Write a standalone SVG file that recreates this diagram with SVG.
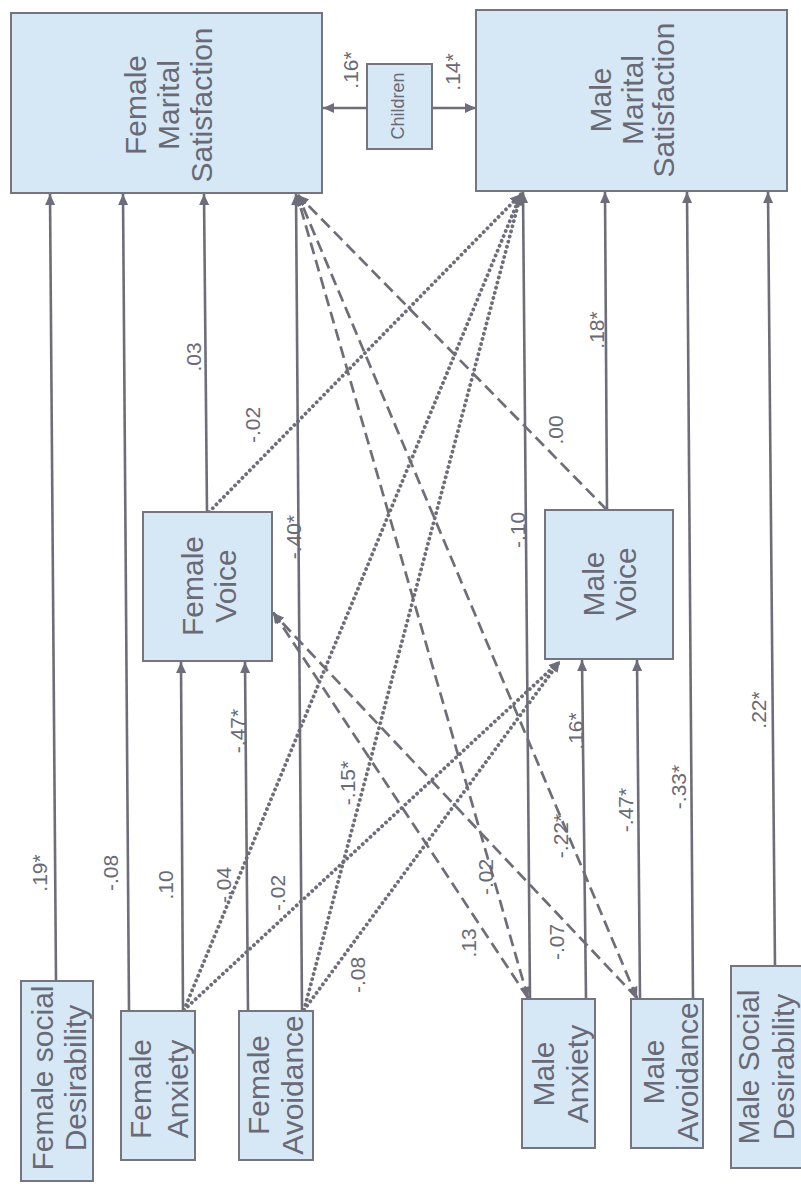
<svg xmlns="http://www.w3.org/2000/svg" width="801" height="1184" viewBox="0 0 801 1184">
<style>
.box{fill:#d6e8f5;stroke:#75757f;stroke-width:2}
.nt{font-family:"Liberation Sans",Arial,sans-serif;font-size:30px;fill:#6a6a76;text-anchor:middle}
.lb{font-family:"Liberation Sans",Arial,sans-serif;font-size:21px;fill:#6a6a76;text-anchor:middle}
.solid{stroke:#6e6e7a;stroke-width:2.6;fill:none}
.dash{stroke:#6e6e7a;stroke-width:2.7;fill:none;stroke-dasharray:12 6}
.dot{stroke:#6e6e7a;stroke-width:3.8;fill:none;stroke-dasharray:0.1 5.2;stroke-linecap:round}
</style>
<defs>
<marker id="ah" markerUnits="userSpaceOnUse" markerWidth="12" markerHeight="10" refX="11" refY="5" orient="auto">
<path d="M0,0 L11,5 L0,10 z" fill="#6e6e7a"/>
</marker>
<marker id="ahs" markerUnits="userSpaceOnUse" markerWidth="12" markerHeight="10" refX="0" refY="5" orient="auto">
<path d="M11,0 L0,5 L11,10 z" fill="#6e6e7a"/>
</marker>
</defs>
<rect width="801" height="1184" fill="#ffffff"/>

<g id="connectors">
<line class="solid" x1="56" y1="981" x2="50" y2="194" marker-end="url(#ah)"/>
<line class="solid" x1="129" y1="1011" x2="123" y2="194" marker-end="url(#ah)"/>
<line class="solid" x1="183" y1="1011" x2="181" y2="662" marker-end="url(#ah)"/>
<line class="solid" x1="207" y1="512" x2="204" y2="194" marker-end="url(#ah)"/>
<line class="solid" x1="248" y1="1011" x2="245" y2="662" marker-end="url(#ah)"/>
<line class="solid" x1="302" y1="1011" x2="296" y2="194" marker-end="url(#ah)"/>
<line class="solid" x1="530" y1="999" x2="523" y2="192" marker-end="url(#ah)"/>
<line class="solid" x1="586" y1="999" x2="582" y2="660" marker-end="url(#ah)"/>
<line class="solid" x1="607" y1="510" x2="605" y2="192" marker-end="url(#ah)"/>
<line class="solid" x1="640" y1="999" x2="637" y2="660" marker-end="url(#ah)"/>
<line class="solid" x1="693" y1="999" x2="687" y2="192" marker-end="url(#ah)"/>
<line class="solid" x1="775" y1="967" x2="768" y2="192" marker-end="url(#ah)"/>
<line class="solid" x1="367" y1="108" x2="323" y2="108" marker-end="url(#ah)"/>
<line class="solid" x1="432" y1="108" x2="476" y2="108" marker-end="url(#ah)"/>

<line class="dash" x1="607" y1="510" x2="298" y2="195" marker-end="url(#ah)"/>
<line class="dash" x1="528" y1="998" x2="297" y2="195" marker-start="url(#ahs)" marker-end="url(#ah)"/>
<line class="dash" x1="528" y1="998" x2="273" y2="612" marker-end="url(#ah)"/>
<line class="dash" x1="637" y1="998" x2="298" y2="195" marker-start="url(#ahs)" marker-end="url(#ah)"/>
<line class="dash" x1="637" y1="998" x2="273" y2="613" marker-end="url(#ah)"/>

<line class="dot" x1="209" y1="512" x2="521" y2="194" marker-end="url(#ah)"/>
<line class="dot" x1="184" y1="1010" x2="521" y2="194" marker-end="url(#ah)"/>
<line class="dot" x1="184" y1="1010" x2="560" y2="661" marker-end="url(#ah)"/>
<line class="dot" x1="304" y1="1010" x2="521" y2="194" marker-end="url(#ah)"/>
<line class="dot" x1="304" y1="1010" x2="560" y2="661" marker-end="url(#ah)"/>
</g>

<g id="node-female-marital-satisfaction">
<rect class="box" x="11" y="13" width="311" height="180"/>
<text class="nt" transform="translate(168,105) rotate(-90)"><tspan x="0" y="-22.5">Female</tspan><tspan x="0" y="10.5">Marital</tspan><tspan x="0" y="43.5">Satisfaction</tspan></text>
</g>
<g id="node-children">
<rect class="box" x="367" y="64" width="65" height="85"/>
<text class="nt" style="font-size:18px" transform="translate(398,106) rotate(-90)" x="0" y="6">Children</text>
</g>
<g id="node-male-marital-satisfaction">
<rect class="box" x="476" y="10" width="311" height="181"/>
<text class="nt" transform="translate(632,100) rotate(-90)"><tspan x="0" y="-21.5">Male</tspan><tspan x="0" y="10.5">Marital</tspan><tspan x="0" y="41.5">Satisfaction</tspan></text>
</g>
<g id="node-female-voice">
<rect class="box" x="143" y="512" width="129" height="149"/>
<text class="nt" transform="translate(208.5,586) rotate(-90)"><tspan x="0" y="-6">Female</tspan><tspan x="0" y="27">Voice</tspan></text>
</g>
<g id="node-male-voice">
<rect class="box" x="545" y="510" width="128" height="149"/>
<text class="nt" transform="translate(609,584) rotate(-90)"><tspan x="0" y="-5.5">Male</tspan><tspan x="0" y="26.5">Voice</tspan></text>
</g>
<g id="node-female-social-desirability">
<rect class="box" x="21" y="981" width="72" height="200"/>
<text class="nt" transform="translate(58.5,1078) rotate(-90)"><tspan x="0" y="-6">Female social</tspan><tspan x="0" y="27">Desirability</tspan></text>
</g>
<g id="node-female-anxiety">
<rect class="box" x="121" y="1011" width="74" height="149"/>
<text class="nt" transform="translate(158.5,1089) rotate(-90)"><tspan x="0" y="-8">Female</tspan><tspan x="0" y="29">Anxiety</tspan></text>
</g>
<g id="node-female-avoidance">
<rect class="box" x="239" y="1011" width="74" height="149"/>
<text class="nt" transform="translate(275,1085) rotate(-90)"><tspan x="0" y="-6.5">Female</tspan><tspan x="0" y="27.5">Avoidance</tspan></text>
</g>
<g id="node-male-anxiety">
<rect class="box" x="522" y="999" width="73" height="149"/>
<text class="nt" transform="translate(560,1074) rotate(-90)"><tspan x="0" y="-6.5">Male</tspan><tspan x="0" y="27.5">Anxiety</tspan></text>
</g>
<g id="node-male-avoidance">
<rect class="box" x="631" y="999" width="72" height="149"/>
<text class="nt" transform="translate(670,1072) rotate(-90)"><tspan x="0" y="-6.5">Male</tspan><tspan x="0" y="27.5">Avoidance</tspan></text>
</g>
<g id="node-male-social-desirability">
<rect class="box" x="731" y="966" width="84" height="202"/>
<text class="nt" transform="translate(765.5,1067) rotate(-90)"><tspan x="0" y="-7">Male Social</tspan><tspan x="0" y="28">Desirability</tspan></text>
</g>

<g id="labels">
<text class="lb" transform="translate(350,70) rotate(-90)" y="7.5">.16*</text>
<text class="lb" transform="translate(452,72) rotate(-90)" y="7.5">.14*</text>
<text class="lb" transform="translate(39,873) rotate(-90)" y="7.5">.19*</text>
<text class="lb" transform="translate(110,873) rotate(-90)" y="7.5">-.08</text>
<text class="lb" transform="translate(165,885) rotate(-90)" y="7.5">.10</text>
<text class="lb" transform="translate(223,885) rotate(-90)" y="7.5">-.04</text>
<text class="lb" transform="translate(237,731) rotate(-90)" y="7.5">-.47*</text>
<text class="lb" transform="translate(277,893) rotate(-90)" y="7.5">-.02</text>
<text class="lb" transform="translate(347,783) rotate(-90)" y="7.5">-.15*</text>
<text class="lb" transform="translate(357,975) rotate(-90)" y="7.5">-.08</text>
<text class="lb" transform="translate(468,943) rotate(-90)" y="7.5">.13</text>
<text class="lb" transform="translate(485,877) rotate(-90)" y="7.5">-.02</text>
<text class="lb" transform="translate(556,942) rotate(-90)" y="7.5">-.07</text>
<text class="lb" transform="translate(560,836) rotate(-90)" y="7.5">-.22*</text>
<text class="lb" transform="translate(575,731) rotate(-90)" y="7.5">.16*</text>
<text class="lb" transform="translate(625,810) rotate(-90)" y="7.5">-.47*</text>
<text class="lb" transform="translate(678,787) rotate(-90)" y="7.5">-.33*</text>
<text class="lb" transform="translate(758,710) rotate(-90)" y="7.5">.22*</text>
<text class="lb" transform="translate(517,530) rotate(-90)" y="7.5">-.10</text>
<text class="lb" transform="translate(293,537) rotate(-90)" y="7.5">-.40*</text>
<text class="lb" transform="translate(193,357) rotate(-90)" y="7.5">.03</text>
<text class="lb" transform="translate(252,425) rotate(-90)" y="7.5">-.02</text>
<text class="lb" transform="translate(555,430) rotate(-90)" y="7.5">.00</text>
<text class="lb" transform="translate(596,330) rotate(-90)" y="7.5">.18*</text>
</g>
</svg>
